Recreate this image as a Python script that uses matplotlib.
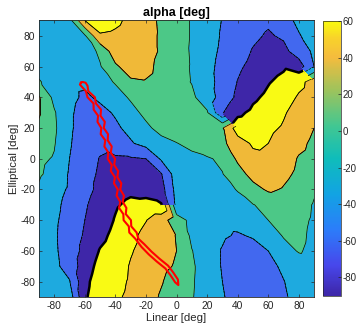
import numpy as np
import matplotlib
matplotlib.use('agg')
import matplotlib.pyplot as plt
import matplotlib.tri as mtri
from matplotlib.colors import LinearSegmentedColormap, Normalize
from matplotlib.cm import ScalarMappable

plt.rcParams['font.family'] = ['Liberation Sans', 'DejaVu Sans']
plt.rcParams['axes.unicode_minus'] = False

# grid: alpha [deg] at Linear (columns) x Elliptical (rows)
linear = list(range(-90, 91, 10))
elliptical = list(range(90, -91, -10))

alpha = [
    [-15, -15, -10, 60, 74, 67, 52, 39, 26, 12, -2, -17, -31, -42, -50, -56, -40, -24, -15],   # 90
    [-15, -15, -10, -4, 57, 54, 45, 38, 27, 12, -2, -17, -33, -43, -55, -63, -56, -32, -18],   # 80
    [-15, -14, -12, -14, 5, 48, 48, 40, 27, 13, -3, -20, -35, -47, -62, -70, -68, -45, -25],   # 70
    [-8, -12, -12, -8, -2, 25, 45, 38, 22, 10, -2, -22, -38, -55, -68, -78, -86, -75, -30],    # 60
    [2, -10, -22, -24, -10, 2, 25, 28, 20, 8, -1, -20, -40, -61, -75, -88, 82, 67, 50],        # 50
    [33, -8, -22, -35, -25, -10, 3, 12, 18, 15, 5, -15, -42, -66, -85, 84, 72, 57, 48],        # 40
    [33, 3, -25, -42, -38, -27, -8, 6, 18, 22, 14, 3, -58, -84, 84, 75, 63, 48, 40],           # 30
    [25, 5, -25, -45, -47, -35, -22, -5, 8, 17, 18, 22, 28, 75, 72, 66, 57, 42, 30],           # 20
    [12, 2, -27, -48, -55, -45, -33, -20, -8, -1, 8, 18, 24, 46, 64, 60, 48, 36, 25],          # 10
    [5, -2, -30, -50, -61, -64, -63, -60, -26, -15, -8, -3, 5, 35, 52, 55, 42, 28, 22],        # 0
    [3, -8, -33, -52, -63, -70, -72, -68, -62, -15, -11, -7, -1, 18, 40, 46, 36, 25, 18],      # -10
    [-3, -18, -34, -52, -66, -78, -84, -85, -72, -20, -14, -10, -6, 1, 20, 34, 28, 18, 3],     # -20
    [-8, -22, -40, -57, -72, -87, 84, 86, 88, -24, -18, -13, -10, -6, -1, 8, 13, 10, -2],      # -30
    [-10, -25, -42, -60, -75, 88, 75, 61, 42, 14, -8, -15, -22, -20, -10, 0, 7, 6, -3],        # -40
    [-10, -26, -45, -63, -82, 82, 67, 52, 40, 29, -6, -15, -26, -33, -27, -14, 2, 5, -5],      # -50
    [-10, -25, -45, -68, 88, 76, 62, 51, 41, 30, 1, -15, -32, -45, -42, -30, -10, 2, -6],      # -60
    [-10, -23, -42, -75, 80, 72, 58, 48, 37, 27, 4, -14, -32, -45, -48, -38, -25, -14, -10],   # -70
    [-12, -22, -28, -82, 74, 68, 57, 45, 32, 17, 3, -14, -30, -42, -48, -42, -31, -18, -13],   # -80
    [-12, -20, -14, -86, 72, 64, 55, 42, 27, 14, 2, -14, -28, -40, -47, -44, -34, -20, -14],   # -90
]

levels = [-90, -60, -30, 0, 30, 60, 90]
band_colors = ['#3e26a8', '#4268ef', '#1eaadf', '#4cc887', '#f0b938', '#f9fa14']

# red trajectory outline (Linear, Elliptical)
red_x = [-62.5, -63.2, -59.3, -58.2, -54.3, -54.2, -51.3, -51.7, -49.2, -49.6, -46.6, -47.2,
         -44.6, -45.0, -42.4, -43.0, -40.3, -40.9, -38.4, -39.2, -36.8, -37.6, -34.8, -34.6,
         -31.2, -30.9, -27.0, -22.9, -18.2, -12.9, -7.3, -3.9, -0.9, 1.2,
         0.9, -2.1, -5.5, -11.1, -16.4, -21.1, -25.0, -26.1, -29.6, -29.8, -33.2, -32.8,
         -35.2, -34.4, -36.8, -36.1, -38.7, -38.2, -40.8, -40.2, -43.0, -42.4, -45.0, -44.8,
         -47.6, -46.9, -49.7, -49.4, -52.7, -53.4, -57.7, -58.2, -59.5, -61.5, -62.5]
red_y = [49.5, 48.3, 44, 40, 36, 32, 28, 24, 20, 16, 12, 8,
         4, 0, -4, -8, -12, -16, -20, -24, -28, -32, -36, -40,
         -44, -48, -52, -57.4, -62.2, -66.9, -71.4, -75.9, -80.4, -82.2,
         -78.6, -74.1, -69.6, -65.1, -60.4, -55.6, -52, -48, -44, -40, -36, -32,
         -28, -24, -20, -16, -12, -8, -4, 0, 4, 8, 12, 16,
         20, 24, 28, 32, 36, 40, 44, 47.5, 49.5, 50, 49.5]

parula = LinearSegmentedColormap.from_list('parula', [
    (0.00, (0.2422, 0.1504, 0.6603)), (0.11, (0.2803, 0.2782, 0.9221)),
    (0.24, (0.1700, 0.4900, 0.9800)), (0.37, (0.0700, 0.6400, 0.8900)),
    (0.50, (0.0600, 0.7400, 0.7300)), (0.62, (0.2600, 0.7800, 0.5700)),
    (0.75, (0.6200, 0.7650, 0.3600)), (0.87, (0.9600, 0.7370, 0.2400)),
    (0.94, (0.9730, 0.8260, 0.1670)), (1.00, (0.9763, 0.9831, 0.0538))])

X, Y = np.meshgrid(linear, elliptical)
A = np.array(alpha, float)
x, y, a1 = X.ravel(), Y.ravel(), A.ravel()
a2 = np.where(a1 < 0, a1 + 180, a1)   # same angle on 0..180, continuous across +-90

nx, ny = len(linear), len(elliptical)
tris = []
for j in range(ny - 1):
    for i in range(nx - 1):
        p = j * nx + i
        tris.append([p, p + 1, p + nx + 1])
        tris.append([p, p + nx + 1, p + nx])
tris = np.array(tris)

span1 = a1[tris].max(1) - a1[tris].min(1)
span2 = a2[tris].max(1) - a2[tris].min(1)
bad1 = span1 > 95
bad2 = span2 > 80
t0 = mtri.Triangulation(x, y, tris)
t1 = mtri.Triangulation(x, y, tris, mask=bad1)
t2 = mtri.Triangulation(x, y, tris, mask=bad2)
t3 = mtri.Triangulation(x, y, tris, mask=~(bad1 & bad2))

fig = plt.figure(figsize=(3.57, 3.25), dpi=100)
ax = fig.add_axes([0.109, 0.086, 0.771, 0.851])

ax.tricontourf(t0, a1, levels=levels, colors=band_colors)
ax.tricontourf(t2, a2, levels=[0, 30, 60, 90, 120, 150, 180],
               colors=band_colors[3:] + band_colors[:3])
ax.tricontourf(t1, a1, levels=levels, colors=band_colors)

ax.tricontour(t1, a1, levels=[-60, -30, 0, 30, 60], colors='k', linewidths=0.5)
ax.tricontour(t2, a2, levels=[30, 60, 120, 150], colors='k', linewidths=0.5)
ax.tricontour(t3, a1, levels=[-60, -30, 0, 30, 60], colors='k', linewidths=0.5)
ax.tricontour(t2, a2, levels=[90], colors='k', linewidths=1.8)

ax.plot(red_x, red_y, color='#ff0000', lw=1.5)

ax.set_xlim(-90, 90)
ax.set_ylim(-90, 90)
ax.set_xticks(range(-80, 81, 20))
ax.set_yticks(range(-80, 81, 20))
ax.tick_params(direction='in', length=2.5, width=0.5, top=True, right=True,
               labelsize=7.4, colors='#262626', pad=2.5)
for s in ax.spines.values():
    s.set_linewidth(0.6)
    s.set_color('#262626')
ax.set_title('alpha [deg]', fontsize=9, fontweight='bold', pad=3.5)
ax.set_xlabel('Linear [deg]', fontsize=8.2, color='#262626', labelpad=1.5)
ax.set_ylabel('Elliptical [deg]', fontsize=8.2, color='#262626', labelpad=1)

cax = fig.add_axes([0.9056, 0.0902, 0.0487, 0.845])
sm = ScalarMappable(norm=Normalize(-90, 60), cmap=parula)
cb = fig.colorbar(sm, cax=cax, ticks=range(-80, 61, 20))
cb.outline.set_linewidth(0.5)
cb.outline.set_edgecolor('#262626')
cax.tick_params(direction='in', length=2.5, width=0.5, labelsize=7,
                colors='#262626', pad=1.2)

plt.savefig('out.png', dpi=100)
plt.close()
